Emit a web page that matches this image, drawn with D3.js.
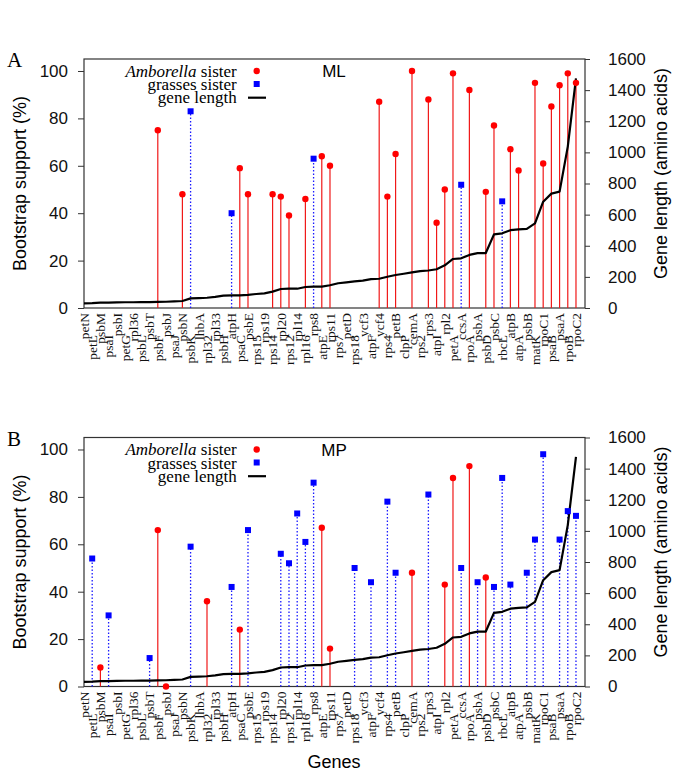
<!DOCTYPE html>
<html>
<head>
<meta charset="utf-8">
<script src="https://cdnjs.cloudflare.com/ajax/libs/d3/7.8.5/d3.min.js"></script>
<style>
  html, body { margin: 0; padding: 0; background: #fff; }
  svg { display: block; }
</style>
</head>
<body>
<svg id="chart" width="685" height="774"></svg>
<script>
// ---------------- DATA ----------------
const genes = ["petN","petL","psbM","psaI","psbI","petG","rpl36","psbL","psbT","psbF",
  "psbJ","psaJ","psbN","psbK","lhbA","rpl32","rpl33","psbH","atpH","psaC",
  "psbE","rps15","rps19","rps14","rpl20","rps12","rpl14","rpl16","rps8","atpE",
  "rps11","rps7","petD","rps18","ycf3","atpF","ycf4","rps4","petB","clpP",
  "cemA","rps2","rps3","atpI","rpl2","petA","ccsA","rpoA","psbA","psbD",
  "psbC","rbcL","atpB","atpA","psbB","matK","rpoC1","psaB","psaA","rpoB","rpoC2"];

const geneLength = [30,31,34,35,36,37,37,38,38,39,
  40,42,45,62,64,66,71,79,81,81,
  84,90,94,105,122,124,124,135,137,137,
  146,159,165,171,176,186,188,201,212,220,
  229,237,241,249,274,315,319,341,353,353,
  473,480,500,505,508,544,683,735,748,1037,1476];

// ML bootstrap (null = no support of that kind)
const mlAmborella = {psbF:75, psbN:48, psaC:59, psbE:48, rps14:48, rpl20:47, rps12:39,
  rpl16:46, atpE:64, rps11:60, ycf4:87, rps4:47, petB:65, cemA:100, rps3:88, atpI:36,
  rpl2:50, petA:99, rpoA:92, psbD:49, psbC:77, atpB:67, atpA:58, matK:95, rpoC1:61,
  psaB:85, psaA:94, rpoB:99, rpoC2:95};
const mlGrasses = {psbK:83, atpH:40, rps8:63, ccsA:52, rbcL:45};

// MP bootstrap
const mpAmborella = {psbM:8, psbF:66, psbJ:0, rpl32:36, psaC:24, atpE:67, rps11:16,
  cemA:48, rpl2:43, petA:88, rpoA:93, psbD:46};
const mpGrasses = {petL:54, psaI:30, psbT:12, psbK:59, atpH:42, psbE:66, rpl20:56,
  rps12:52, rpl14:73, rpl16:61, rps8:86, rps18:50, atpF:44, rps4:78, petB:48, rps3:81,
  ccsA:50, psbA:44, psbC:42, rbcL:88, atpB:43, psbB:48, matK:62, rpoC1:98, psaA:62,
  rpoB:74, rpoC2:72};

const leftTicks = [0,20,40,60,80,100];
const rightTicks = [0,200,400,600,800,1000,1200,1400,1600];

// ---------------- DRAW ----------------
const svg = d3.select("#chart");
const L = 84, R = 585;
const SANS = "'Liberation Sans', Arial, Helvetica, sans-serif";
const SERIF = "'Liberation Serif', 'Times New Roman', serif";

const x = d3.scaleLinear().domain([1, 62.1]).range([L, R]);

function panel(top, bottom, letter, method, amb, gra, showXTitle) {
  const g = svg.append("g");
  const y = d3.scaleLinear().domain([0, 105.06]).range([bottom, top]);
  const y2 = d3.scaleLinear().domain([0, 1600]).range([bottom, top]);

  // frame
  g.append("rect").attr("x", L).attr("y", top).attr("width", R - L).attr("height", bottom - top)
    .attr("fill", "none").attr("stroke", "#333").attr("stroke-width", 1.2);

  // left axis
  const la = g.append("g").attr("transform", `translate(${L},0)`)
    .call(d3.axisLeft(y).tickValues(leftTicks).tickSize(6).tickPadding(10).tickFormat(d3.format("d")));
  la.select(".domain").remove();
  la.selectAll("line").attr("stroke", "#333");
  la.selectAll("text").attr("font-family", SANS).attr("font-size", 17).attr("fill", "#111");

  // right axis
  const ra = g.append("g").attr("transform", `translate(${R},0)`)
    .call(d3.axisRight(y2).tickValues(rightTicks).tickSize(5).tickPadding(18).tickFormat(d3.format("d")));
  ra.select(".domain").remove();
  ra.selectAll("line").attr("stroke", "#333");
  ra.selectAll("text").attr("font-family", SANS).attr("font-size", 17).attr("fill", "#111");

  // axis titles
  g.append("text").attr("transform", `translate(26,${(top + bottom) / 2 + 0}) rotate(-90)`)
    .attr("text-anchor", "middle").attr("font-family", SANS).attr("font-size", 18)
    .text("Bootstrap support (%)");
  g.append("text").attr("transform", `translate(667,${(top + bottom) / 2 - 10}) rotate(-90)`)
    .attr("text-anchor", "middle").attr("font-family", SANS).attr("font-size", 18)
    .text("Gene length (amino acids)");

  // panel letter
  g.append("text").attr("x", 7).attr("y", top + 8).attr("font-family", SERIF)
    .attr("font-size", 21).text(letter);

  // gene labels (staggered)
  genes.forEach((name, i) => {
    const yy = (i % 2 === 0) ? bottom + 5 : bottom + 27;
    g.append("text")
      .attr("transform", `translate(${x(i + 1)},${yy}) rotate(-90)`)
      .attr("text-anchor", "end").attr("dy", "0.35em")
      .attr("font-family", SERIF).attr("font-size", 13.5).attr("fill", "#111")
      .text(name);
  });

  const ambData = genes.map((n, i) => ({i: i + 1, v: amb[n]})).filter(d => d.v != null);
  const graData = genes.map((n, i) => ({i: i + 1, v: gra[n]})).filter(d => d.v != null);

  // stems
  g.selectAll(".rs").data(ambData).enter().append("line")
    .attr("x1", d => x(d.i)).attr("x2", d => x(d.i))
    .attr("y1", y(0)).attr("y2", d => y(d.v))
    .attr("stroke", "#f01818").attr("stroke-width", 1.2);
  g.selectAll(".bs").data(graData).enter().append("line")
    .attr("x1", d => x(d.i)).attr("x2", d => x(d.i))
    .attr("y1", y(0)).attr("y2", d => y(d.v))
    .attr("stroke", "#1a1aff").attr("stroke-width", 1.3).attr("stroke-dasharray", "1.5,2");

  // gene length line
  const line = d3.line().x((d, i) => x(i + 1)).y(d => y2(d));
  g.append("path").datum(geneLength).attr("d", line)
    .attr("fill", "none").attr("stroke", "#000").attr("stroke-width", 2.2)
    .attr("stroke-linejoin", "round");

  // points
  g.selectAll(".rp").data(ambData).enter().append("circle")
    .attr("cx", d => x(d.i)).attr("cy", d => y(d.v)).attr("r", 3.2).attr("fill", "#ff0000");
  g.selectAll(".bp").data(graData).enter().append("rect")
    .attr("x", d => x(d.i) - 3).attr("y", d => y(d.v) - 3).attr("width", 6).attr("height", 6)
    .attr("fill", "#0000ff");

  // legend
  const lx = 236.7;
  const t1 = g.append("text").attr("x", lx).attr("y", top + 17.7).attr("text-anchor", "end")
    .attr("font-family", SERIF).attr("font-size", 17);
  t1.append("tspan").attr("font-style", "italic").text("Amborella");
  t1.append("tspan").text(" sister");
  g.append("text").attr("x", lx).attr("y", top + 31).attr("text-anchor", "end")
    .attr("font-family", SERIF).attr("font-size", 17).text("grasses sister");
  g.append("text").attr("x", lx).attr("y", top + 44.3).attr("text-anchor", "end")
    .attr("font-family", SERIF).attr("font-size", 17).text("gene length");
  g.append("circle").attr("cx", 256.7).attr("cy", top + 12).attr("r", 3.2).attr("fill", "#ff0000");
  g.append("rect").attr("x", 253.7).attr("y", top + 22).attr("width", 6).attr("height", 6).attr("fill", "#0000ff");
  g.append("line").attr("x1", 248).attr("x2", 266).attr("y1", top + 38.7).attr("y2", top + 38.7)
    .attr("stroke", "#000").attr("stroke-width", 2.2);

  // method label
  g.append("text").attr("x", 334).attr("y", top + 18).attr("text-anchor", "middle")
    .attr("font-family", SANS).attr("font-size", 17).text(method);

  if (showXTitle) {
    g.append("text").attr("x", 334).attr("y", 768).attr("text-anchor", "middle")
      .attr("font-family", SANS).attr("font-size", 18).text("Genes");
  }
}

panel(59, 308, "A", "ML", mlAmborella, mlGrasses, false);
panel(437.5, 686.5, "B", "MP", mpAmborella, mpGrasses, true);
</script>
</body>
</html>
